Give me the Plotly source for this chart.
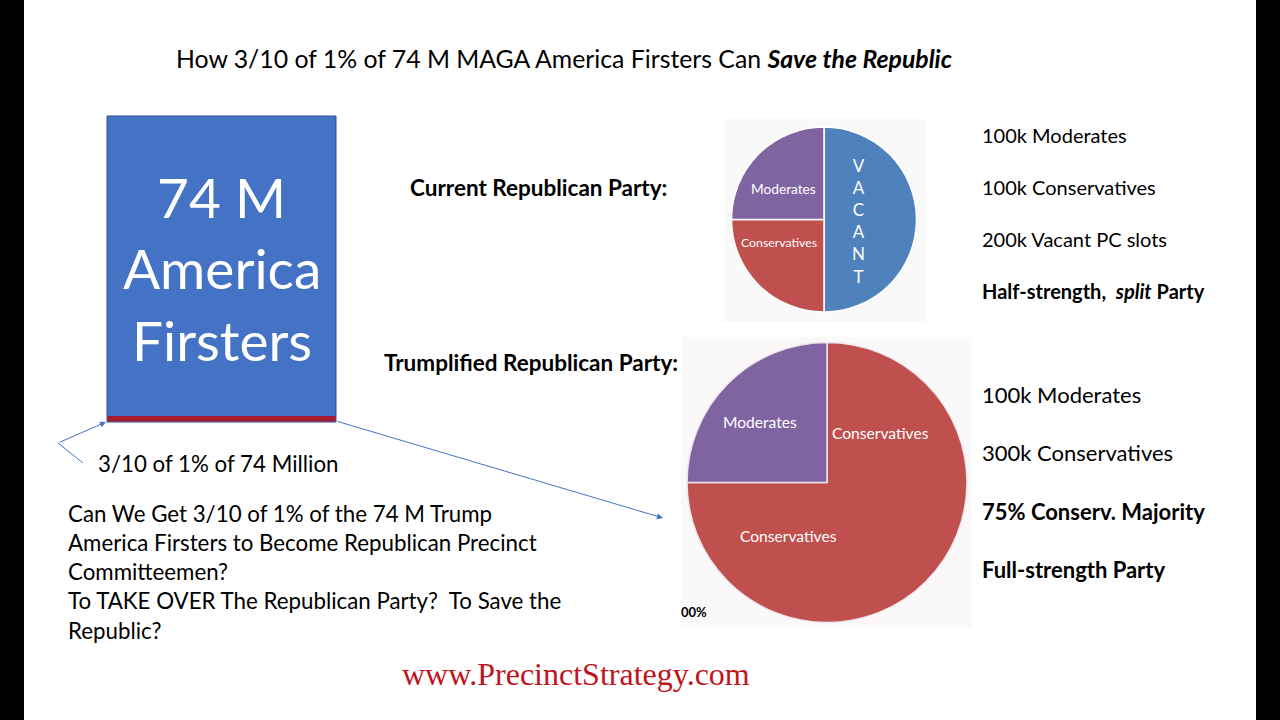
import plotly.graph_objects as go

# ---- data ----
current_labels = ["VACANT", "Conservatives", "Moderates"]
current_values = [200, 100, 100]          # thousands of PC slots
current_colors = ["#4F81BD", "#C0504D", "#8064A2"]

trump_labels = ["Conservatives", "Moderates"]
trump_values = [300, 100]
trump_colors = ["#C0504D", "#8064A2"]

current_notes = ["100k Moderates", "100k Conservatives", "200k Vacant PC slots",
                 "<b>Half-strength,  <i>split</i> Party</b>"]
trump_notes = ["100k Moderates", "300k Conservatives",
               "<b>75% Conserv. Majority</b>", "<b>Full-strength Party</b>"]

question_lines = ["Can We Get 3/10 of 1% of the 74 M Trump",
                  "America Firsters to Become Republican Precinct",
                  "Committeemen?",
                  "To TAKE OVER The Republican Party?  To Save the",
                  "Republic?"]

W, H = 1280, 720
FONT = "Lato, 'Open Sans', sans-serif"

def dom(cx, cy, r):
    return dict(x=[(cx - r) / W, (cx + r) / W], y=[1 - (cy + r) / H, 1 - (cy - r) / H])

fig = go.Figure()

fig.add_trace(go.Pie(labels=current_labels, values=current_values, sort=False,
                     direction="clockwise", rotation=0, textinfo="none",
                     marker=dict(colors=current_colors, line=dict(color="white", width=1.5)),
                     domain=dom(824, 219.5, 92.5), showlegend=False, hoverinfo="label+value"))
fig.add_trace(go.Pie(labels=trump_labels, values=trump_values, sort=False,
                     direction="clockwise", rotation=0, textinfo="none",
                     marker=dict(colors=trump_colors, line=dict(color="#EDE6EE", width=1.5)),
                     domain=dom(827, 482.5, 140), showlegend=False, hoverinfo="label+value"))

shapes = [
    # black side bars
    dict(type="rect", xref="x", yref="y", x0=0, x1=24, y0=0, y1=720, fillcolor="black", line_width=0, layer="below"),
    dict(type="rect", xref="x", yref="y", x0=1256, x1=1280, y0=0, y1=720, fillcolor="black", line_width=0, layer="below"),
    # pie picture backgrounds
    dict(type="rect", xref="x", yref="y", x0=724, x1=925, y0=119, y1=322, fillcolor="#F9F9F9", line_width=0, layer="below"),
    dict(type="rect", xref="x", yref="y", x0=681, x1=972, y0=337, y1=628, fillcolor="#FAF8F8", line_width=0, layer="below"),
    # big blue box
    dict(type="rect", xref="x", yref="y", x0=107, x1=336, y0=116, y1=422, fillcolor="#4472C4",
         line=dict(color="#2F528F", width=1), layer="below"),
    dict(type="rect", xref="x", yref="y", x0=107.5, x1=335.5, y0=416, y1=421.5, fillcolor="#A61C2E", line_width=0, layer="below"),
    # arrow elbow segment
    dict(type="line", xref="x", yref="y", x0=83, y0=463, x1=58, y1=443, line=dict(color="#4472C4", width=1)),
]

ann = []
def txt(x, y, s, size, color="black", anchor="left", family=FONT, **kw):
    ann.append(dict(x=x, y=y, xref="x", yref="y", text=s, showarrow=False, xanchor=anchor,
                    yanchor="middle", font=dict(size=size, color=color, family=family), **kw))

# title
txt(174, 58, "How 3/10 of 1% of 74 M MAGA America Firsters Can <b><i>Save the Republic</i></b>", 24.8)

# box text
for yy, s in [(197, "74 M"), (268, "America"), (340, "Firsters")]:
    txt(221.5, yy, s, 55, color="white", anchor="center")

txt(96, 463, "3/10 of 1% of 74 Million", 22.3)

for i, s in enumerate(question_lines):
    txt(66, 513 + i * 29.3, s, 22.3)

txt(669, 187, "<b>Current Republican Party:</b>", 22.5, anchor="right")
txt(680, 362, "<b>Trumplified Republican Party:</b>", 22.5, anchor="right")

for i, s in enumerate(current_notes):
    txt(980, 135 + i * 52, s, 20)
for i, s in enumerate(trump_notes):
    txt(980, 394 + i * 58.5, s, 22)

# pie slice labels
txt(783, 188, "Moderates", 13.7, color="white", anchor="center")
txt(779, 242, "Conservatives", 12.3, color="white", anchor="center")
txt(858, 221, "V<br>A<br>C<br>A<br>N<br>T", 17, color="white", anchor="center")
txt(760, 422, "Moderates", 15.6, color="white", anchor="center")
txt(880, 433, "Conservatives", 15.6, color="white", anchor="center")
txt(788, 536, "Conservatives", 15.6, color="white", anchor="center")
txt(694, 612, "<b>00%</b>", 13, anchor="center")

txt(576, 674, "www.PrecinctStrategy.com", 32, color="#C0141C", anchor="center",
    family="'Liberation Serif', 'Times New Roman', serif")

# arrows
ann.append(dict(x=106, y=422, ax=58, ay=443, xref="x", yref="y", axref="x", ayref="y", text="",
                showarrow=True, arrowhead=2, arrowsize=1.2, arrowwidth=1, arrowcolor="#4472C4"))
ann.append(dict(x=663, y=518, ax=336, ay=421, xref="x", yref="y", axref="x", ayref="y", text="",
                showarrow=True, arrowhead=2, arrowsize=1.2, arrowwidth=1, arrowcolor="#4472C4"))

fig.update_layout(
    width=W, height=H, margin=dict(l=0, r=0, t=0, b=0),
    paper_bgcolor="white", plot_bgcolor="white",
    xaxis=dict(range=[0, W], visible=False, fixedrange=True, domain=[0, 1]),
    yaxis=dict(range=[H, 0], visible=False, fixedrange=True, domain=[0, 1]),
    shapes=shapes, annotations=ann, showlegend=False,
)

fig.write_html("out.html", config={"displayModeBar": False},
               post_script="document.body.style.margin='0px';document.body.style.overflow='hidden';")
